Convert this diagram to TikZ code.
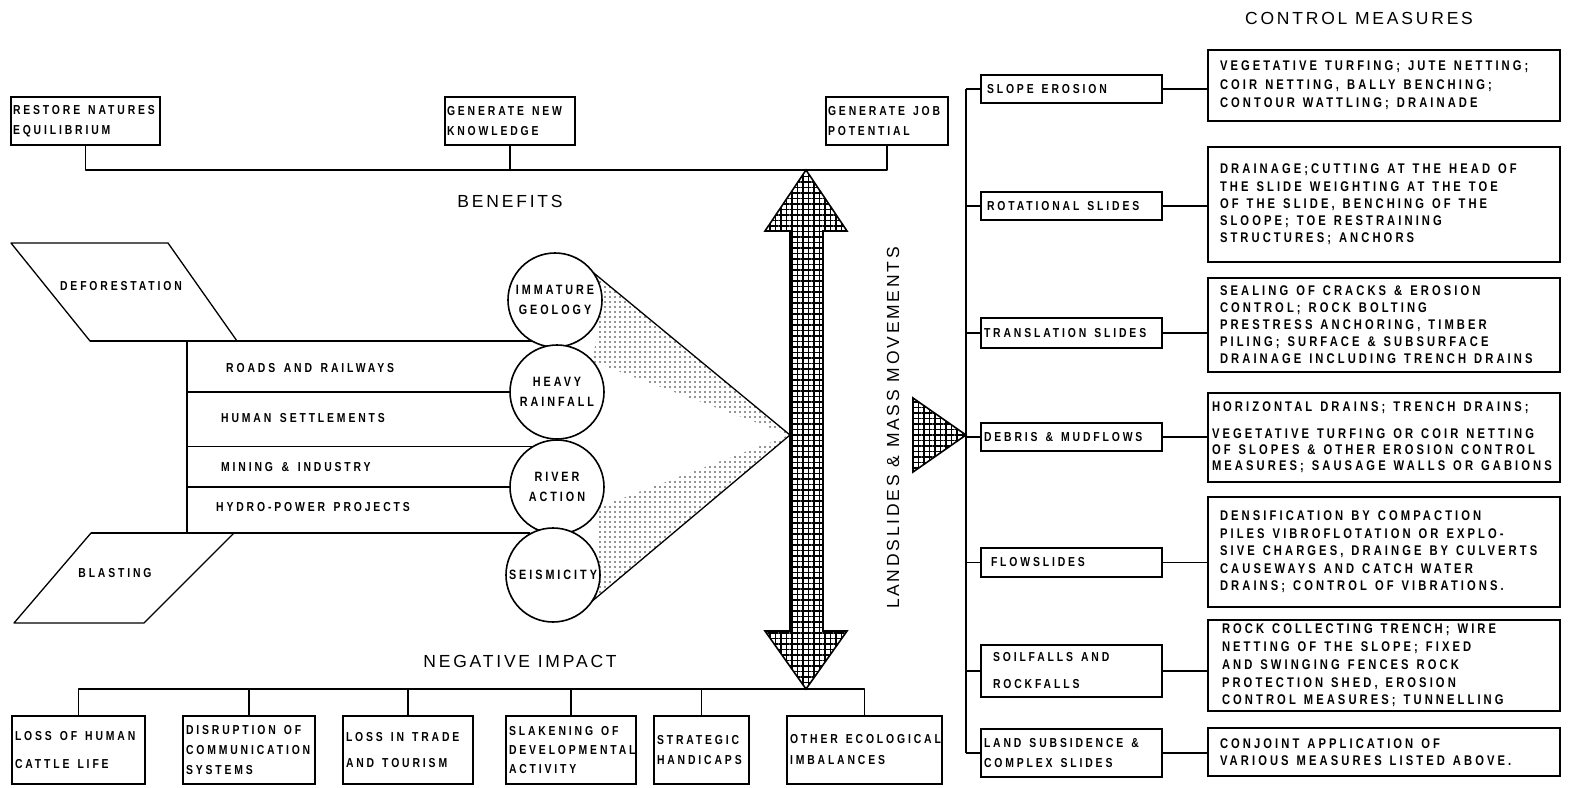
\documentclass[tikz,border=0pt]{standalone}
\usepackage{fontspec}
\setmainfont{Liberation Sans}
\newfontfamily\lblfont[FakeStretch=0.8,LetterSpace=22,WordSpace=1.5]{Liberation Sans}
\newfontfamily\hdrfont[LetterSpace=16]{Liberation Sans}
\usetikzlibrary{patterns.meta,calc}
\pgfdeclarelayer{background}
\pgfsetlayers{background,main}
\newcommand\lblsize{\fontsize{13}{17.5}\selectfont}
\begin{document}
\begin{tikzpicture}[x=1pt,y=-1pt,
  ln/.style={line width=1.6pt, line join=round},
  lbl/.style={font=\lblfont\bfseries\lblsize, inner sep=0pt, anchor=west},
  hdr/.style={font=\hdrfont\fontsize{17.5}{20}\selectfont, inner sep=0pt},
  bx/.style={draw, line width=1.6pt, rectangle, anchor=north west, inner ysep=0pt,
    outer sep=0pt, align=left, font=\lblfont\bfseries\lblsize,
    execute at begin node={\spaceskip=8pt plus 1pt minus 0.5pt\relax}},
  ls/.style={font=\lblfont\bfseries\fontsize{13}{#1}\selectfont},
  lsb/.style={font=\lblfont\bfseries\fontsize{14}{#1}\selectfont},
  cause/.style={circle, draw, fill=white, line width=1.6pt, minimum size=94pt,
    inner sep=0pt, outer sep=0pt, align=center, font=\lblfont\bfseries\fontsize{13.5}{20}\selectfont},
  gridfill/.style={draw, line width=1.6pt, line join=miter,
    pattern={Hatch[distance=5.5pt,angle=0,line width=1.9pt]}},
  stipple/.style={pattern={Dots[distance=5pt,radius=0.9pt]}, pattern color=black!85}
]
\useasboundingbox (0,0) rectangle (1570,787);

% ---------- headers ----------
\node[hdr] (hcm) at (1359,18) {CONTROL MEASURES};
\node[hdr] (hben) at (510,201) {BENEFITS};
\node[hdr] (hneg) at (520,661) {NEGATIVE IMPACT};
\node[hdr, rotate=90] (hland) at (893,428) {LANDSLIDES \& MASS MOVEMENTS};

% ---------- benefits ----------
\node[bx, ls=20, inner xsep=2pt, text width=145pt, minimum height=48pt] (t1) at (11,97) {\mbox{RESTORE NATURES}\\EQUILIBRIUM};
\node[bx, ls=20, inner xsep=2pt, text width=126pt, minimum height=48pt] (t2) at (445,97) {\mbox{GENERATE NEW}\\KNOWLEDGE};
\node[bx, ls=20, inner xsep=2pt, text width=118pt, minimum height=48pt] (t3) at (826,97) {\mbox{GENERATE JOB}\\POTENTIAL};
\coordinate (by) at (0,170);
\draw[ln] (t1.south) -- (t1.south |- by) -- (t3.south |- by) -- (t3.south);
\draw[ln] (t2.south) -- (t2.south |- by);

% ---------- causes ----------
\node[cause] (c1) at (555,300) {IMMATURE\\GEOLOGY};
\node[cause] (c2) at (557,392) {HEAVY\\RAINFALL};
\node[cause] (c3) at (557,487) {RIVER\\ACTION};
\node[cause] (c4) at (553,575) {SEISMICITY};

\coordinate (apex) at (790,435);
\begin{pgfonlayer}{background}
  \path[stipple] (c1.36) -- (apex) -- (c2.40) -- (c1.-20) -- cycle;
  \path[stipple] (c3.-25) -- (apex) -- (c4.-34) -- (c4.20) -- cycle;
\end{pgfonlayer}
\draw[ln, line width=1.3pt] (c1.36) -- (apex) -- (c4.-34);

% deforestation / blasting
\coordinate (d1) at (11,243); \coordinate (d2) at (168,243);
\coordinate (d3) at (237,341); \coordinate (d4) at (90,341);
\draw[ln, line width=1.3pt] (d1) -- (d2) -- (d3) -- (d4) -- cycle;
\node[lbl, anchor=center] (defo) at (121,286) {DEFORESTATION};
\coordinate (b1) at (91,533); \coordinate (b2) at (234,533);
\coordinate (b3) at (144,623); \coordinate (b4) at (14,623);
\draw[ln, line width=1.3pt] (b1) -- (b2) -- (b3) -- (b4) -- cycle;
\node[lbl, anchor=center] (blast) at (115,573) {BLASTING};

\coordinate (brt) at (187,341);
\coordinate (brb) at (187,533);
\draw[ln] (d4) -- (c1.240 |- d4);
\draw[ln] (b1) -- (c4.120 |- b1);
\draw[ln] (brt) -- (brb);
\draw[ln] (brt |- c2.west) -- (c2.west);
\draw[ln] (brt |- c3.120) -- (c3.120);
\draw[ln] (brt |- c3.west) -- (c3.west);

\node[lbl] (roads) at (226,368) {ROADS AND RAILWAYS};
\node[lbl] (human) at (221,418) {HUMAN SETTLEMENTS};
\node[lbl] (mining) at (221,467) {MINING \& INDUSTRY};
\node[lbl] (hydro) at (216,507) {HYDRO-POWER PROJECTS};

% ---------- double arrow ----------
\coordinate (atop) at (806,170);
\coordinate (abot) at (806,689);
\draw[gridfill] (atop) -- (847,231) -- (823,231) -- (823,631) -- (847,631) -- (abot)
  -- (765,631) -- (790,631) -- (790,231) -- (765,231) -- cycle;

% ---------- negative impact ----------
\node[bx, ls=28, inner xsep=3pt, text width=127pt, minimum height=68pt] (n1) at (12,716) {\mbox{LOSS OF HUMAN}\\\mbox{CATTLE LIFE}};
\node[bx, ls=20, inner xsep=3pt, text width=126pt, minimum height=68pt] (n2) at (183,716) {\mbox{DISRUPTION OF}\\COMMUNICATION\\SYSTEMS};
\node[bx, ls=26, inner xsep=3pt, text width=124pt, minimum height=68pt] (n3) at (343,716) {\mbox{LOSS IN TRADE}\\\mbox{AND TOURISM}};
\node[bx, ls=19, inner xsep=3pt, text width=124pt, minimum height=68pt] (n4) at (506,716) {\mbox{SLAKENING OF}\\DEVELOPMENTAL\\ACTIVITY};
\node[bx, ls=20, inner xsep=3pt, text width=89pt, minimum height=68pt] (n5) at (654,716) {STRATEGIC\\HANDICAPS};
\node[bx, ls=21, inner xsep=3pt, text width=149pt, minimum height=68pt] (n6) at (787,716) {\mbox{OTHER ECOLOGICAL}\\IMBALANCES};
\coordinate (ny) at (0,689);
\draw[ln] (n1.north) -- (n1.north |- ny) -- (n6.north |- ny) -- (n6.north);
\foreach \k in {n2,n3,n4,n5} \draw[ln] (\k.north) -- (\k.north |- ny);

% ---------- landslide types ----------
\node[bx, inner xsep=6pt, text width=169pt, minimum height=28pt] (lb1) at (981,75) {\mbox{SLOPE EROSION}};
\node[bx, inner xsep=6pt, text width=169pt, minimum height=28pt] (lb2) at (981,192) {\mbox{ROTATIONAL SLIDES}};
\node[bx, inner xsep=3pt, text width=175pt, minimum height=30pt] (lb3) at (981,318) {\mbox{TRANSLATION SLIDES}};
\node[bx, inner xsep=3pt, text width=175pt, minimum height=28pt] (lb4) at (981,423) {\mbox{DEBRIS \& MUDFLOWS}};
\node[bx, inner xsep=10pt, text width=161pt, minimum height=29pt] (lb5) at (981,548) {FLOWSLIDES};
\node[bx, ls=27, inner xsep=12pt, text width=157pt, minimum height=52pt] (lb6) at (981,645) {\mbox{SOILFALLS AND}\\ROCKFALLS};
\node[bx, ls=20, inner xsep=3pt, text width=175pt, minimum height=48pt] (lb7) at (981,729) {\mbox{LAND SUBSIDENCE \&}\\\mbox{COMPLEX SLIDES}};

\coordinate (sp) at (966,435);
\draw[ln] (sp |- lb1.west) -- (sp |- lb7.west);
\foreach \k in {lb1,lb2,lb3,lb4,lb5,lb6,lb7} \draw[ln] (sp |- \k.west) -- (\k.west);
\draw[gridfill] (913,398) -- (sp) -- (913,472) -- cycle;

% ---------- control measures ----------
\node[bx, lsb=18.5, inner xsep=12pt, text width=328pt, minimum height=71pt] (cm1) at (1208,50)
  {\mbox{VEGETATIVE TURFING; JUTE NETTING;}\\\mbox{COIR NETTING, BALLY BENCHING;}\\\mbox{CONTOUR WATTLING; DRAINADE}};
\node[bx, lsb=17.3, inner xsep=12pt, text width=328pt, minimum height=115pt] (cm2) at (1208,147)
  {\mbox{DRAINAGE;CUTTING AT THE HEAD OF}\\\mbox{THE SLIDE WEIGHTING AT THE TOE}\\\mbox{OF THE SLIDE, BENCHING OF THE}\\\mbox{SLOOPE; TOE RESTRAINING}\\\mbox{STRUCTURES; ANCHORS}};
\node[bx, lsb=17, inner xsep=12pt, text width=328pt, minimum height=94pt] (cm3) at (1208,278)
  {\mbox{SEALING OF CRACKS \& EROSION}\\\mbox{CONTROL; ROCK BOLTING}\\\mbox{PRESTRESS ANCHORING, TIMBER}\\\mbox{PILING; SURFACE \& SUBSURFACE}\\\mbox{DRAINAGE INCLUDING TRENCH DRAINS}};
\node[bx, lsb=16, inner xsep=4pt, text width=344pt, minimum height=89pt] (cm4) at (1208,393)
  {\mbox{HORIZONTAL DRAINS; TRENCH DRAINS;}\\[11pt]\mbox{VEGETATIVE TURFING OR COIR NETTING}\\\mbox{OF SLOPES \& OTHER EROSION CONTROL}\\\mbox{MEASURES; SAUSAGE WALLS OR GABIONS}};
\node[bx, lsb=17.5, inner xsep=12pt, text width=328pt, minimum height=110pt] (cm5) at (1208,497)
  {\mbox{DENSIFICATION BY COMPACTION}\\\mbox{PILES VIBROFLOTATION OR EXPLO-}\\\mbox{SIVE CHARGES, DRAINGE BY CULVERTS}\\\mbox{CAUSEWAYS AND CATCH WATER}\\\mbox{DRAINS; CONTROL OF VIBRATIONS.}};
\node[bx, lsb=17.7, inner xsep=14pt, text width=324pt, minimum height=91pt] (cm6) at (1208,620)
  {\mbox{ROCK COLLECTING TRENCH; WIRE}\\\mbox{NETTING OF THE SLOPE; FIXED}\\\mbox{AND SWINGING FENCES ROCK}\\\mbox{PROTECTION SHED, EROSION}\\\mbox{CONTROL MEASURES; TUNNELLING}};
\node[bx, lsb=17, inner xsep=12pt, text width=328pt, minimum height=48pt] (cm7) at (1208,728)
  {\mbox{CONJOINT APPLICATION OF}\\\mbox{VARIOUS MEASURES LISTED ABOVE.}};
\foreach \k in {1,...,7} \draw[ln] (lb\k.east) -- (cm\k.west |- lb\k.east);
\end{tikzpicture}
\end{document}
